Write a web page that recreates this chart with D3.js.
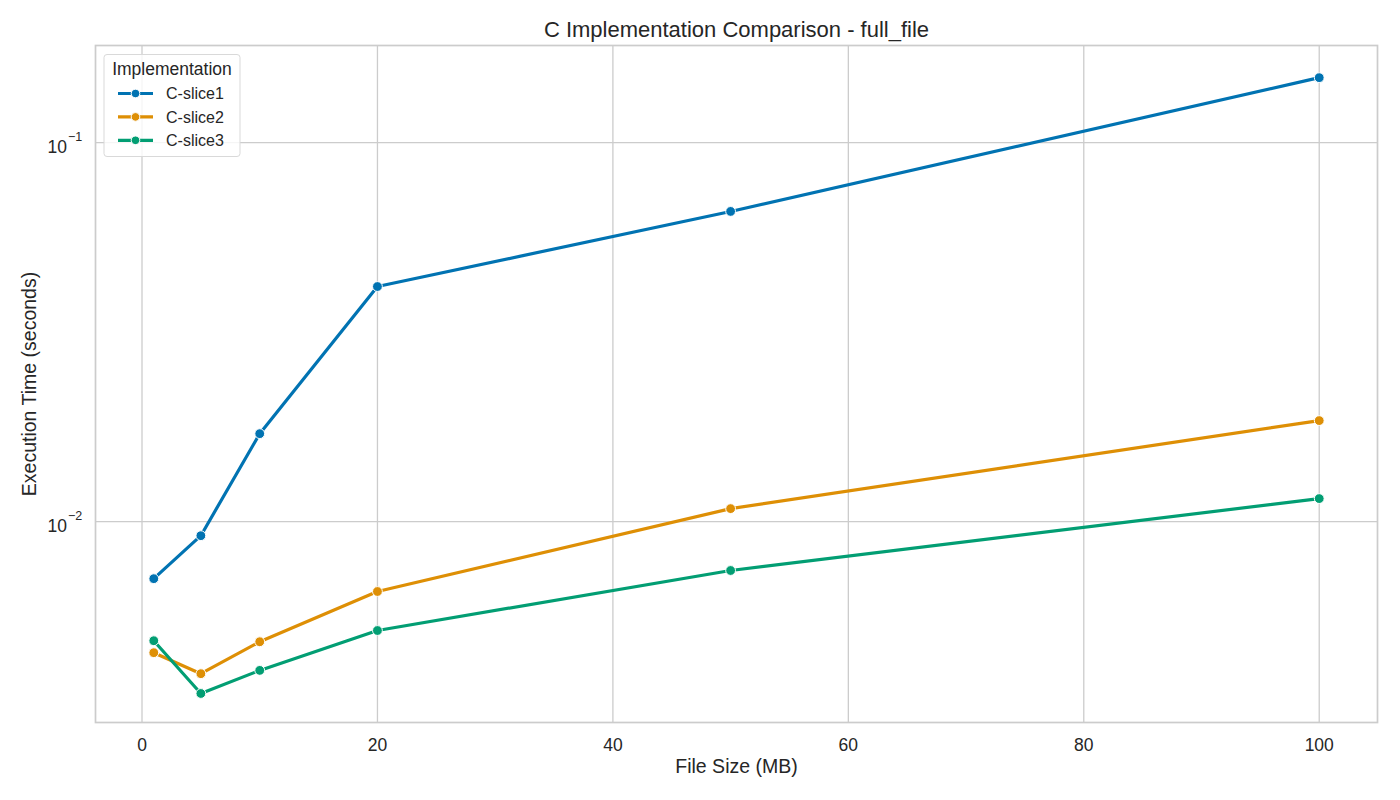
<!DOCTYPE html>
<html><head><meta charset="utf-8">
<script src="https://cdn.jsdelivr.net/npm/d3@7"></script>
<style>body{margin:0;background:#fff;} text{font-family:"Liberation Sans",Arial,sans-serif;fill:#262626;}</style>
</head><body>
<svg id="c" width="1400" height="800"></svg>
<script>
const fileSizes = [1, 5, 10, 20, 50, 100];
const slice1 = [0.00707, 0.00918, 0.01706, 0.0417, 0.0658, 0.1483];
const slice2 = [0.00451, 0.00397, 0.00482, 0.00654, 0.01082, 0.01847];
const slice3 = [0.00485, 0.00352, 0.00405, 0.00516, 0.00743, 0.01150];
const seriesNames = ["C-slice1", "C-slice2", "C-slice3"];
const seriesColors = ["#0173b2", "#de8f05", "#029e73"];
const xTicks = [0, 20, 40, 60, 80, 100];
const yTicks = [0.01, 0.1];

const series = [slice1, slice2, slice3];
const svg = d3.select("#c");
const L = 95.5, R = 1377.5, T = 45.5, B = 722.5;
const x = d3.scaleLinear().domain([-3.95, 104.95]).range([L, R]);
const y = d3.scaleLog().domain([Math.pow(10, -2.530), Math.pow(10, -0.744)]).range([B, T]);

const g = svg.append("g");
// grid
g.selectAll(".gx").data(xTicks).enter().append("line")
  .attr("x1", d => x(d)).attr("x2", d => x(d)).attr("y1", T).attr("y2", B)
  .attr("stroke", "#cccccc").attr("stroke-width", 1.3);
g.selectAll(".gy").data(yTicks).enter().append("line")
  .attr("y1", d => y(d)).attr("y2", d => y(d)).attr("x1", L).attr("x2", R)
  .attr("stroke", "#cccccc").attr("stroke-width", 1.3);
// spines
g.append("rect").attr("x", L).attr("y", T).attr("width", R - L).attr("height", B - T)
  .attr("fill", "none").attr("stroke", "#cccccc").attr("stroke-width", 1.7);

// x tick labels
g.selectAll(".xt").data(xTicks).enter().append("text")
  .attr("x", d => x(d)).attr("y", 751).attr("text-anchor", "middle")
  .style("font-size", "17.5px").text(d => d);
// y tick labels
yTicks.forEach(v => {
  const e = Math.round(Math.log10(v));
  g.append("text").attr("x", 67).attr("y", y(v) + 10).attr("text-anchor", "end").style("font-size", "17.5px").text("10");
  g.append("text").attr("x", 68).attr("y", y(v) - 2).attr("text-anchor", "start").style("font-size", "12.5px")
    .text("\u2212" + Math.abs(e));
});

// lines
const line = d3.line().x((d, i) => x(fileSizes[i])).y(d => y(d));
series.forEach((s, k) => {
  g.append("path").datum(s).attr("d", line).attr("fill", "none")
    .attr("stroke", seriesColors[k]).attr("stroke-width", 3.2).attr("stroke-linejoin", "round").attr("stroke-linecap", "round");
  g.selectAll(".m" + k).data(s).enter().append("circle")
    .attr("cx", (d, i) => x(fileSizes[i])).attr("cy", d => y(d)).attr("r", 4.9)
    .attr("fill", seriesColors[k]).attr("stroke", "#fff").attr("stroke-width", 1);
});

// title & labels
svg.append("text").attr("x", (L + R) / 2).attr("y", 37).attr("text-anchor", "middle").style("font-size", "22px")
  .text("C Implementation Comparison - full_file");
svg.append("text").attr("x", (L + R) / 2).attr("y", 773).attr("text-anchor", "middle").style("font-size", "19.5px")
  .text("File Size (MB)");
svg.append("text").attr("transform", `translate(36,${(T + B) / 2}) rotate(-90)`).attr("text-anchor", "middle").style("font-size", "19.5px")
  .text("Execution Time (seconds)");

// legend
const lg = svg.append("g");
lg.append("rect").attr("x", 104).attr("y", 54.5).attr("width", 136).attr("height", 102).attr("rx", 3)
  .attr("fill", "#fff").attr("fill-opacity", 0.8).attr("stroke", "#d9d9d9").attr("stroke-width", 1);
lg.append("text").attr("x", 172).attr("y", 75).attr("text-anchor", "middle").style("font-size", "17.5px").text("Implementation");
seriesNames.forEach((n, k) => {
  const yy = 93.5 + k * 23.4;
  lg.append("line").attr("x1", 118).attr("x2", 153).attr("y1", yy).attr("y2", yy)
    .attr("stroke", seriesColors[k]).attr("stroke-width", 3.2);
  lg.append("circle").attr("cx", 135.5).attr("cy", yy).attr("r", 4.3).attr("fill", seriesColors[k])
    .attr("stroke", "#fff").attr("stroke-width", 1);
  lg.append("text").attr("x", 166).attr("y", yy + 5.8).style("font-size", "16px").text(n);
});
</script>
</body></html>
